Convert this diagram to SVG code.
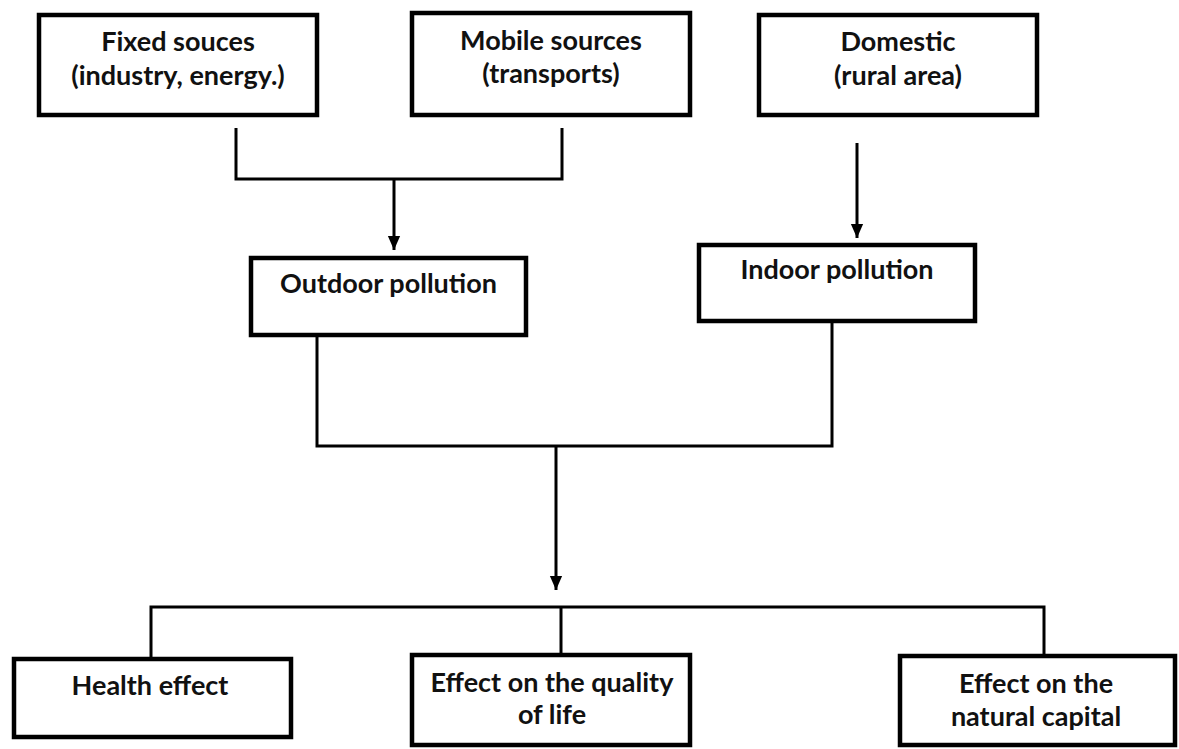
<svg xmlns="http://www.w3.org/2000/svg" width="1179" height="749" viewBox="0 0 1179 749">
<defs>
<marker id="ah" markerUnits="userSpaceOnUse" markerWidth="14" markerHeight="16" viewBox="0 0 16 14" refX="16" refY="7" orient="auto"><path d="M0,0 L16,7 L0,14 z" fill="#000"/></marker>
<style>
.box{fill:#fff;stroke:#000;stroke-width:4.5}
.lbl{font-family:Lato,"Open Sans",sans-serif;font-weight:700;font-size:27px;fill:#111;text-anchor:middle}
.con{fill:none;stroke:#000;stroke-width:3}
</style>
</defs>
<rect width="1179" height="749" fill="#fff"/>
<g id="connectors">
<path class="con" d="M236,128 V179 H562 V128"/>
<line class="con" x1="394" y1="179" x2="394" y2="250" marker-end="url(#ah)"/>
<line class="con" x1="857" y1="143" x2="857" y2="238" marker-end="url(#ah)"/>
<path class="con" d="M317,337 V446 H832 V323"/>
<line class="con" x1="556" y1="446" x2="556" y2="590" marker-end="url(#ah)"/>
<path class="con" d="M151,657 V607 H1044 V654"/>
<line class="con" x1="561" y1="607" x2="561" y2="653"/>
</g>
<g id="fixed">
<rect class="box" x="39" y="15" width="278" height="100"/>
<text class="lbl" x="178" y="51">Fixed souces</text>
<text class="lbl" x="178" y="85">(industry, energy.)</text>
</g>
<g id="mobile">
<rect class="box" x="412" y="13" width="278" height="102"/>
<text class="lbl" x="551" y="50">Mobile sources</text>
<text class="lbl" x="551" y="83">(transports)</text>
</g>
<g id="domestic">
<rect class="box" x="759" y="15" width="278" height="100"/>
<text class="lbl" x="898" y="51">Domestic</text>
<text class="lbl" x="898" y="85">(rural area)</text>
</g>
<g id="outdoor">
<rect class="box" x="251" y="258" width="275" height="77"/>
<text class="lbl" x="388.5" y="293">Outdoor pollution</text>
</g>
<g id="indoor">
<rect class="box" x="699" y="245" width="276" height="76"/>
<text class="lbl" x="837" y="279">Indoor pollution</text>
</g>
<g id="health">
<rect class="box" x="14" y="659" width="277" height="78"/>
<text class="lbl" x="150" y="695">Health effect</text>
</g>
<g id="quality">
<rect class="box" x="412" y="655" width="278" height="90"/>
<text class="lbl" x="552" y="692">Effect on the quality</text>
<text class="lbl" x="552" y="724">of life</text>
</g>
<g id="natural">
<rect class="box" x="900" y="656" width="275" height="89"/>
<text class="lbl" x="1036" y="693">Effect on the</text>
<text class="lbl" x="1036" y="726">natural capital</text>
</g>
</svg>
